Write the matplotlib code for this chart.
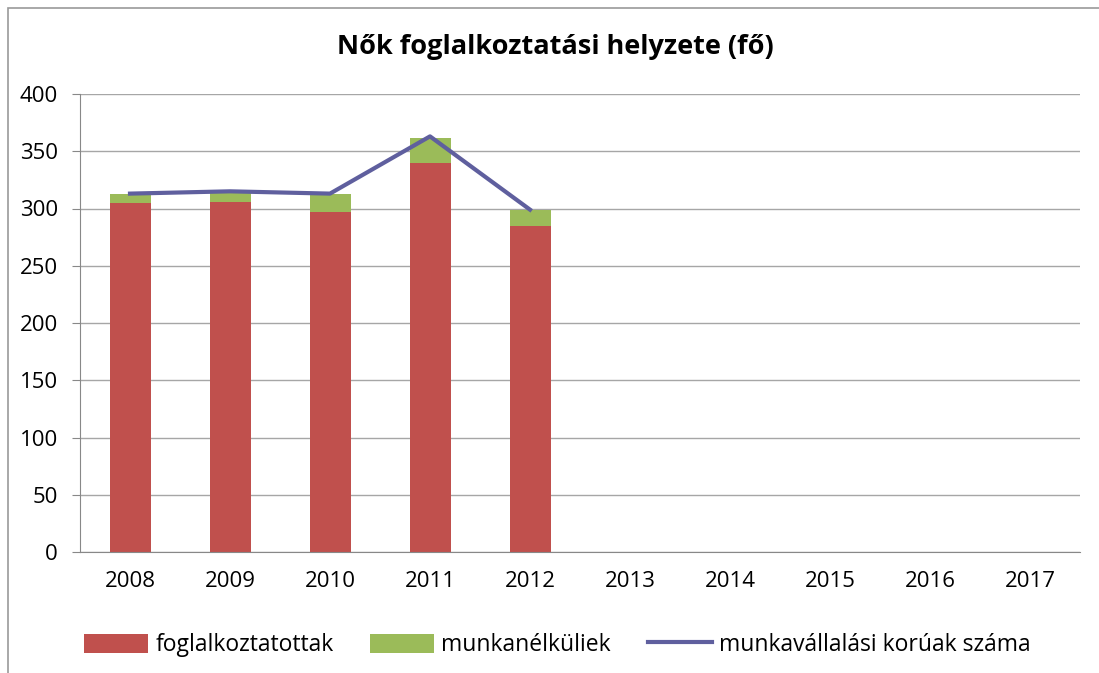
import matplotlib.pyplot as plt
import numpy as np

years = ['2008', '2009', '2010', '2011', '2012', '2013', '2014', '2015', '2016', '2017']
employed = [305, 306, 297, 340, 285]
unemployed = [8, 9, 16, 22, 14]
working_age = [313, 315, 313, 363, 299]

plt.rcParams['font.family'] = ['Open Sans', 'DejaVu Sans']

fig = plt.figure(figsize=(10.99, 6.73), dpi=100)
ax = fig.add_axes([80 / 1099, 1 - 552 / 673, 1000 / 1099, 458 / 673])

x = np.arange(len(years))
n = len(employed)
b1 = ax.bar(x[:n], employed, width=0.41, color='#c0504d', zorder=2)
b2 = ax.bar(x[:n], unemployed, width=0.41, bottom=employed, color='#9bbb59', zorder=2)
ln, = ax.plot(x[:n], working_age, color='#5f5f9e', linewidth=3, zorder=3)

ax.set_xlim(-0.5, len(years) - 0.5)
ax.set_ylim(0, 400)
ax.set_yticks(range(0, 401, 50))
ax.set_xticks(x)
ax.set_xticklabels(years)
ax.yaxis.grid(True, color='#a6a6a6', linewidth=1)
ax.set_axisbelow(True)
for s in ['top', 'right']:
    ax.spines[s].set_visible(False)
ax.spines['left'].set_color('#888888')
ax.spines['bottom'].set_color('#888888')
ax.tick_params(axis='x', length=0, pad=14, labelsize=16)
ax.tick_params(axis='y', length=6, direction='out', color='#888888', pad=10, labelsize=16)

fig.text(0.505, 1 - 47 / 673, 'Nők foglalkoztatási helyzete (fő)', ha='center', va='center',
         fontsize=19.5, fontweight='bold')

fig.legend([b1, b2, ln], ['foglalkoztatottak', 'munkanélküliek', 'munkavállalási korúak száma'],
           loc='center', bbox_to_anchor=(0.507, 1 - 645 / 673), ncol=3, frameon=False,
           fontsize=16.5, handlelength=2.8, handleheight=0.9, columnspacing=1.6, handletextpad=0.3)

border = plt.Rectangle((8 / 1099, -0.01), 1.0, 1 - 8 / 673 + 0.01, transform=fig.transFigure,
                       fill=False, edgecolor='#999999', linewidth=1.2)
fig.add_artist(border)

plt.savefig('out.png', dpi=100)
